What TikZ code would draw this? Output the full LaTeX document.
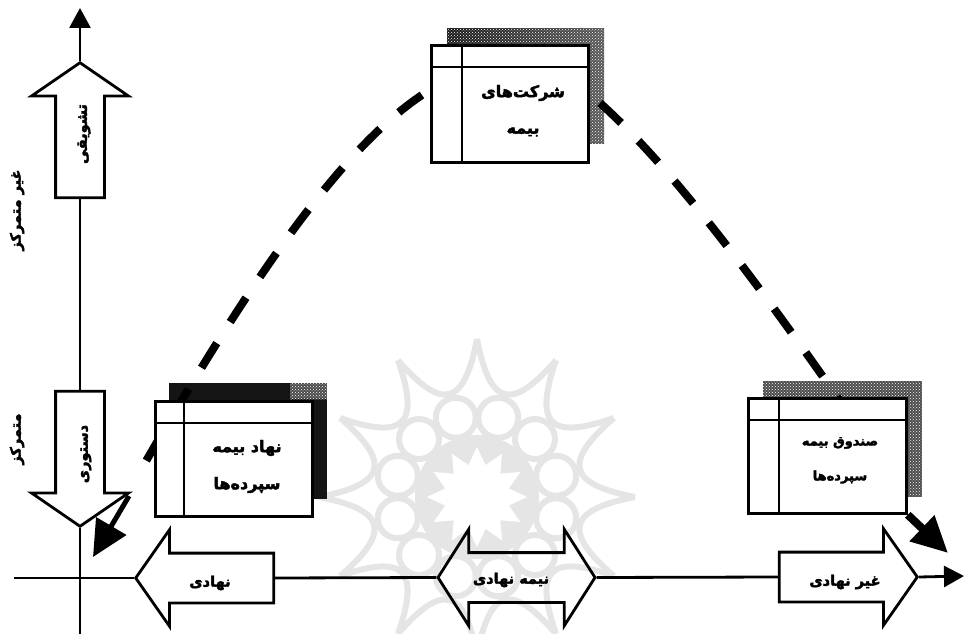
\documentclass[tikz,border=0pt]{standalone}
\usepackage{fontspec}
\usetikzlibrary{arrows.meta,shapes.arrows,patterns}
\newfontfamily\arabicfont[Script=Arabic,BoldFeatures={FakeBold=2.6}]{DejaVu Sans}
\TeXXeTstate=1
\newcommand{\fa}[1]{\beginR #1\endR}
\tikzset{
    mainline/.style={line width=2.8pt},
    axistip/.style={-{Triangle[length=20pt,width=21pt]}},
    uparrow/.style={draw, mainline, single arrow, inner sep=23pt, anchor=tip, minimum width=94pt, minimum height=135pt, single arrow head extend=24pt, single arrow tip angle=111},
    sidearrow/.style={draw, mainline, single arrow, inner sep=23.5pt, anchor=tip, minimum width=94pt, minimum height=138pt, single arrow head extend=23.5pt, single arrow tip angle=110},
    midarrow/.style={draw, mainline, double arrow, inner sep=23.5pt, minimum width=94pt, minimum height=157pt, double arrow head extend=23.5pt, double arrow tip angle=115},
    frontbox/.style={draw, mainline, fill=white, inner sep=0pt, anchor=north west},
    shadowbox/.style={inner sep=0pt, anchor=north west, fill=black!70},
    dither/.style={pattern=crosshatch dots, pattern color=white},
    label/.style={font=\arabicfont\bfseries\fontsize{14.5}{14.5}\selectfont, inner sep=0pt},
    boxlabel/.style={font=\arabicfont\bfseries\fontsize{16}{16}\selectfont, inner sep=0pt},
    smalllabel/.style={font=\arabicfont\bfseries\fontsize{13}{13}\selectfont, inner sep=0pt},
    bigdash/.style={line width=8pt, dash pattern=on 29pt off 25pt},
    bigtip/.style={line width=8pt, -{Triangle[length=36pt,width=34pt]}},
    wmark/.style={draw=black!10, line width=6pt}
}
\begin{document}
\begin{tikzpicture}[x=1pt,y=-1pt]
    \useasboundingbox (0,0) rectangle (964,634);

    % --- Watermark rosette ---
    \begin{scope}
        \clip (0,0) rectangle (964,634);
        \begin{scope}[shift={(477,497)}]
            \foreach \a in {0,30,...,330} {
                \draw[wmark] (\a:158) .. controls (\a+8:92) and (\a+22:92) .. (\a+30:158);
                \draw[wmark] (\a+15:82) circle (20);
            }
            \fill[black!10] (0,0) circle (62);
            \fill[white] (0:50) \foreach \a in {0,30,...,330} {-- (\a+15:33) -- (\a+30:50)} -- cycle;
        \end{scope}
    \end{scope}

    % --- Axis arrows ---
    \node[uparrow, shape border rotate=90] (tashvighi) at (80,61) {};
    \node[uparrow, shape border rotate=270] (dastoori) at (80,528) {};
    \node[sidearrow, shape border rotate=180] (nahadi) at (134,578) {};
    \node[midarrow] (nimeh) at (516.5,577.5) {};
    \node[sidearrow] (gheir) at (919,577) {};

    % Axes
    \coordinate (ytop) at (80,8);
    \coordinate (ybot) at (80,634);
    \coordinate (xleft) at (14,578);
    \coordinate (xright) at (964,576);
    \draw[mainline, axistip] (tashvighi.tip) -- (ytop);
    \draw[mainline] (tashvighi.tail) -- (dastoori.tail);
    \draw[mainline] (dastoori.tip) -- (ybot);
    \draw[mainline] (xleft) -- (nahadi.tip);
    \draw[mainline] (nahadi.tail) -- (nimeh.west);
    \draw[mainline] (nimeh.east) -- (gheir.tail);
    \draw[mainline, axistip] (gheir.tip) -- (xright);

    % --- Shadows of the boxes ---
    \node[shadowbox, minimum width=157pt, minimum height=115pt, left color=black!90, right color=black!65] (insshadow) at (447,28) {};
    \fill[dither] (insshadow.north west) rectangle (insshadow.south east);
    \node[shadowbox, minimum width=158pt, minimum height=116pt, fill=black!92] (instshadow) at (169,383) {};
    \fill[black!70] ([xshift=-37pt]instshadow.north east) rectangle ([yshift=-16pt]instshadow.north east);
    \fill[dither] ([xshift=-37pt]instshadow.north east) rectangle ([yshift=-16pt]instshadow.north east);
    \node[shadowbox, minimum width=159pt, minimum height=116pt] (fundshadow) at (763,381) {};
    \fill[dither] (fundshadow.north west) rectangle (fundshadow.south east);

    % --- Dashed curves (under the front boxes) ---
    \coordinate (startleft) at (422,95);
    \coordinate (endleft) at (138,475);
    \coordinate (shaftleft) at (129,496);
    \coordinate (tipleft) at (93,557);
    \coordinate (startright) at (600,103);
    \coordinate (endright) at (905,495);
    \coordinate (tipright) at (948,553);
    \draw[bigdash] (startleft) .. controls (340,150) and (250,280) .. (endleft);
    \draw[bigdash] (startright) .. controls (680,175) and (775,305) .. (endright);

    % --- Front boxes ---
    \node[frontbox, minimum width=157pt, minimum height=117pt] (ins) at (430,44) {};
    \draw[mainline] ([xshift=32pt]ins.north west) -- ([xshift=32pt]ins.south west);
    \draw[mainline] ([yshift=-23pt]ins.north west) -- ([yshift=-23pt]ins.north east);
    \node[frontbox, minimum width=157pt, minimum height=115pt] (inst) at (154,400) {};
    \draw[mainline] ([xshift=30pt]inst.north west) -- ([xshift=30pt]inst.south west);
    \draw[mainline] ([yshift=-23pt]inst.north west) -- ([yshift=-23pt]inst.north east);
    \node[frontbox, minimum width=158pt, minimum height=115pt] (fund) at (747,397) {};
    \draw[mainline] ([xshift=32pt]fund.north west) -- ([xshift=32pt]fund.south west);
    \draw[mainline] ([yshift=-23pt]fund.north west) -- ([yshift=-23pt]fund.north east);

    % Big arrow ends
    \draw[bigtip, line width=5pt] (shaftleft) -- (tipleft);
    \draw[bigtip] (fund.south east) -- (tipright);

    % --- Labels ---
    \node[boxlabel] (ins1) at (523,93) {\fa{شرکت‌های}};
    \node[boxlabel] (ins2) at (523,132) {\fa{بیمه}};
    \node[boxlabel] (inst1) at (247,448) {\fa{نهاد بیمه}};
    \node[boxlabel] (inst2) at (247,485) {\fa{سپرده‌ها}};
    \node[smalllabel] (fund1) at (840,443) {\fa{صندوق بیمه}};
    \node[smalllabel] (fund2) at (840,477) {\fa{سپرده‌ها}};
    \node[label] (t1) at (210,583) {\fa{نهادی}};
    \node[label] (t2) at (511,580) {\fa{نیمه نهادی}};
    \node[label] (t3) at (845,582) {\fa{غیر نهادی}};
    \node[label, rotate=90] (t4) at (84,134) {\fa{تشویقی}};
    \node[label, rotate=90] (t5) at (86,454) {\fa{دستوری}};
    \node[label, rotate=90] (t6) at (17,210) {\fa{غیر متمرکز}};
    \node[label, rotate=90] (t7) at (17,439) {\fa{متمرکز}};
\end{tikzpicture}
\end{document}
